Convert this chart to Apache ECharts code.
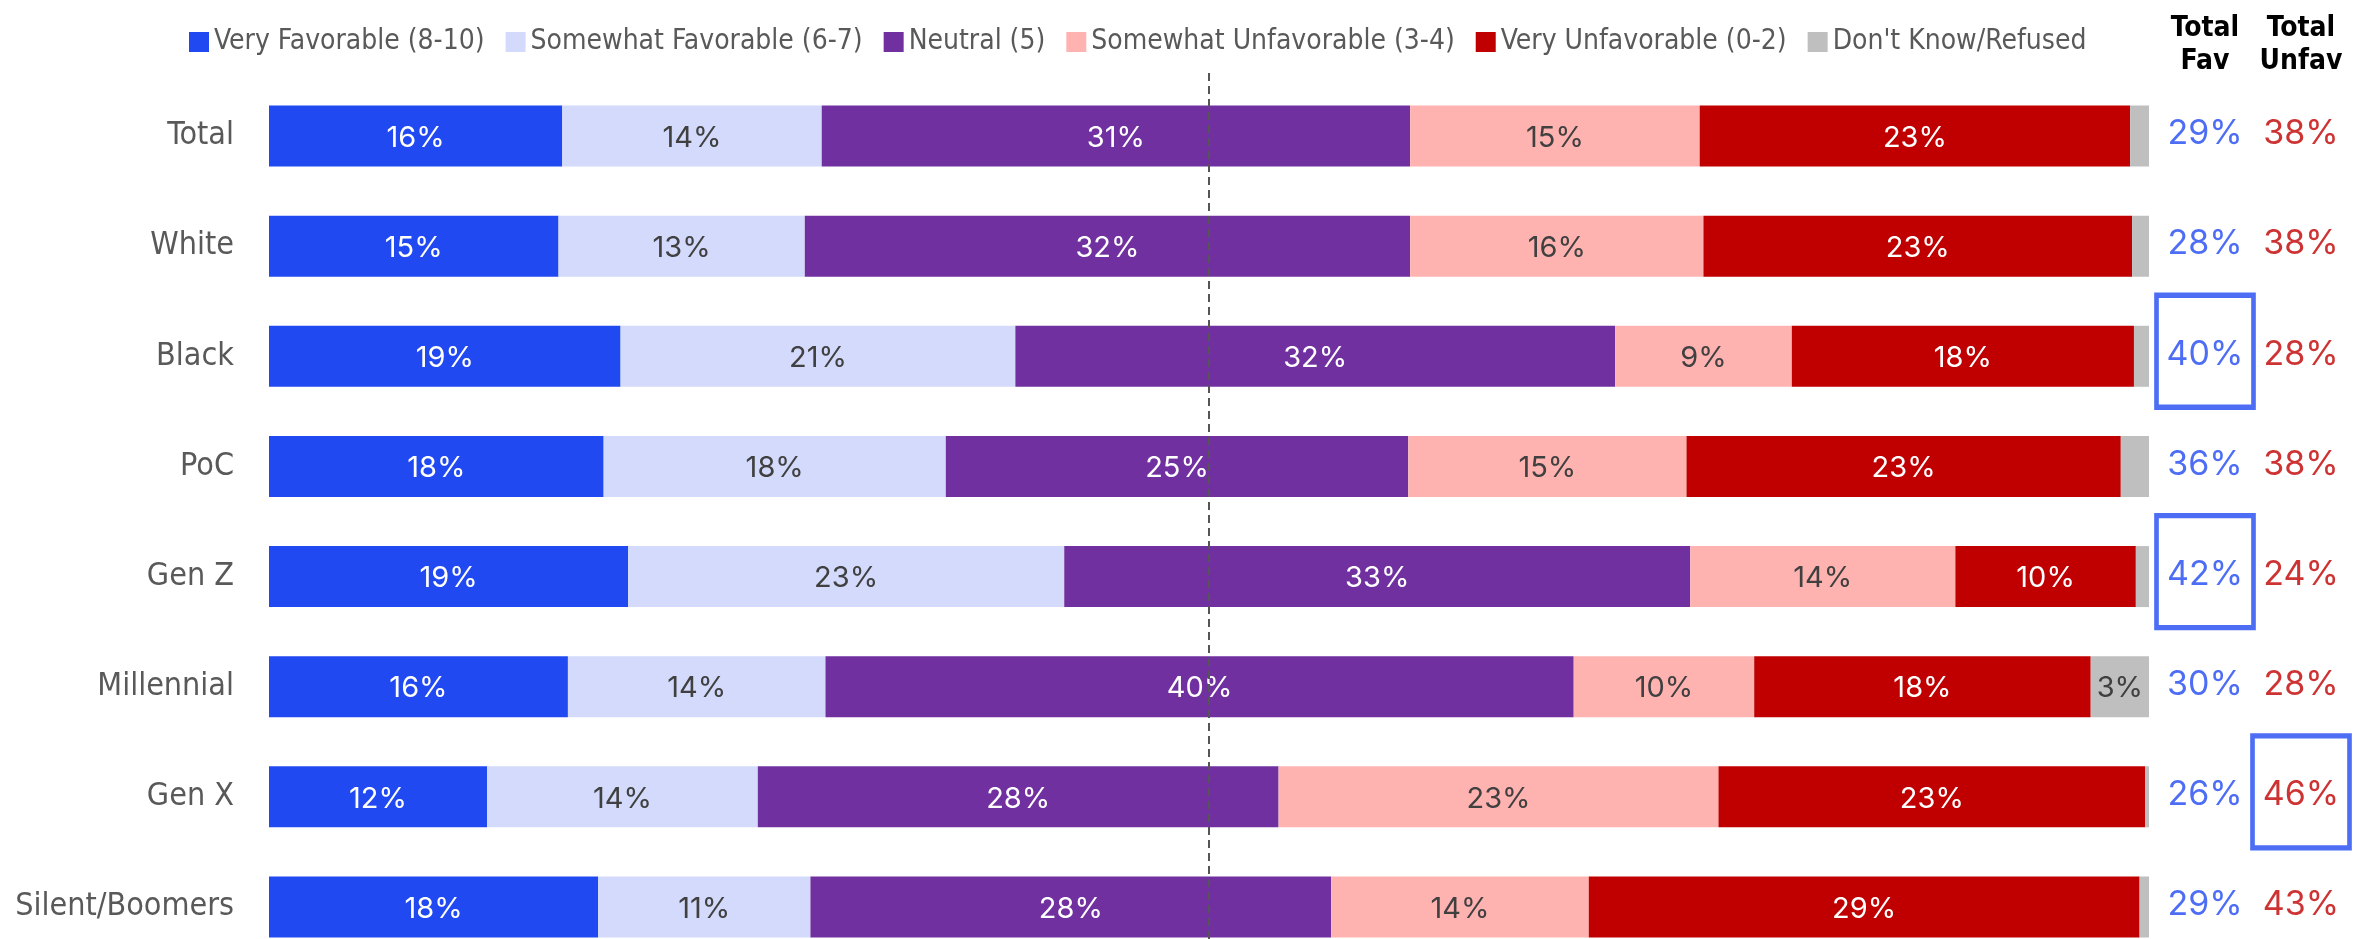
<!DOCTYPE html>
<html>
<head>
<meta charset="utf-8">
<script src="https://cdn.jsdelivr.net/npm/echarts@6/dist/echarts.min.js"></script>
<style>
  html, body { margin: 0; padding: 0; background: #fff; }
  #chart-container { width: 2368px; height: 939px; }
</style>
</head>
<body>
<div id="chart-container"></div>
<script>
// groups, top to bottom
const groups = ["Total", "White", "Black", "PoC", "Gen Z", "Millennial", "Gen X", "Silent/Boomers"];

// segment shares (%)
const veryFav = [15.6, 15.4, 18.7, 17.8, 19.1, 15.9, 11.6, 17.5];
const somewhatFav = [13.8, 13.1, 21.0, 18.2, 23.2, 13.7, 14.4, 11.3];
const neutral = [31.3, 32.2, 31.9, 24.6, 33.3, 39.8, 27.7, 27.7];
const somewhatUnfav = [15.4, 15.6, 9.4, 14.8, 14.1, 9.6, 23.4, 13.7];
const veryUnfav = [22.9, 22.8, 18.2, 23.1, 9.6, 17.9, 22.7, 29.3];
const dontKnow = [1.0, 0.9, 0.8, 1.5, 0.7, 3.1, 0.2, 0.5];

// right-hand summary columns
const totalFav = [29, 28, 40, 36, 42, 30, 26, 29];
const totalUnfav = [38, 38, 28, 38, 24, 28, 46, 43];
const boxedFav = ["Black", "Gen Z"];
const boxedUnfav = ["Gen X"];

const columnHeaders = ["Total\nFav", "Total\nUnfav"];
const midLine = 50;

const LABEL_FONT = "Inter, 'Open Sans', sans-serif";
const NARROW_FONT = "'DejaVu Sans Condensed', 'Liberation Sans Narrow', sans-serif";
const BLUE = "#2049f2";
const RED = "#c00000";

const segments = [
  { name: "Very Favorable (8-10)", data: veryFav, color: BLUE, text: "#ffffff" },
  { name: "Somewhat Favorable (6-7)", data: somewhatFav, color: "#d3dafb", text: "#404040" },
  { name: "Neutral (5)", data: neutral, color: "#7030a0", text: "#ffffff" },
  { name: "Somewhat Unfavorable (3-4)", data: somewhatUnfav, color: "#ffb3b1", text: "#404040" },
  { name: "Very Unfavorable (0-2)", data: veryUnfav, color: RED, text: "#ffffff" },
  { name: "Don't Know/Refused", data: dontKnow, color: "#bfbfbf", text: "#404040" },
];

const dom = document.getElementById("chart-container");
const chart = echarts.init(dom, null, { renderer: "canvas" });

// stacked bars
const barSeries = segments.map((s) => ({
  name: s.name,
  type: "bar",
  stack: "all",
  xAxisIndex: 0,
  yAxisIndex: 0,
  barWidth: 61,
  clip: false,
  silent: true,
  itemStyle: { color: s.color },
  label: {
    show: true,
    position: "inside",
    offset: [0, 2],
    color: s.text,
    fontFamily: LABEL_FONT,
    fontSize: 29,
    formatter: (p) => (p.value >= 2 ? Math.round(p.value) + "%" : ""),
  },
  data: s.data,
}));

// summary cells, with a box round the highlighted ones
function cellSeries(values, col, color, boxed) {
  return {
    type: "scatter",
    xAxisIndex: 1,
    yAxisIndex: 1,
    silent: true,
    clip: false,
    symbol: "rect",
    symbolSize: [97, 112],
    symbolOffset: [0, -5],
    z: 5,
    label: {
      show: true,
      position: "inside",
      offset: [0, 3],
      color: color,
      fontFamily: LABEL_FONT,
      fontSize: 34,
      formatter: (p) => p.value[2] + "%",
    },
    data: values.map((v, i) => ({
      value: [col, i, v],
      itemStyle: boxed.includes(groups[i])
        ? { color: "rgba(0,0,0,0)", borderColor: BLUE, borderWidth: 5 }
        : { color: "rgba(0,0,0,0)", borderWidth: 0 },
    })),
  };
}

// rows sit on the ticks (boundaryGap false), so the grid runs from first to last row centre
const option = {
  animation: false,
  legend: {
    left: 184,
    top: 23,
    itemWidth: 20,
    itemHeight: 20,
    itemGap: 21,
    icon: "rect",
    selectedMode: false,
    textStyle: { fontFamily: NARROW_FONT, fontSize: 28, color: "#595959" },
    data: segments.map((s) => s.name),
  },
  grid: [
    { left: 269, right: 219, top: 136, bottom: 32, outerBoundsMode: "none" },
    { left: 2157, right: 19, top: 136, bottom: 32, outerBoundsMode: "none" },
    { left: 269, right: 219, top: 68, bottom: 0, outerBoundsMode: "none" },
  ],
  xAxis: [
    { type: "value", gridIndex: 0, min: 0, max: 100, show: false },
    {
      type: "category",
      gridIndex: 1,
      position: "top",
      data: columnHeaders,
      axisLine: { show: false },
      axisTick: { show: false },
      axisLabel: {
        interval: 0,
        margin: 58,
        fontFamily: NARROW_FONT,
        fontWeight: "bold",
        fontSize: 28,
        lineHeight: 33,
        color: "#000000",
      },
    },
    { type: "value", gridIndex: 2, min: 0, max: 100, show: false },
  ],
  yAxis: [
    {
      type: "category",
      gridIndex: 0,
      inverse: true,
      boundaryGap: false,
      data: groups,
      axisLine: { show: false },
      axisTick: { show: false },
      splitLine: { show: false },
      axisLabel: {
        interval: 0,
        margin: 35,
        fontFamily: NARROW_FONT,
        fontSize: 32,
        color: "#595959",
      },
    },
    { type: "category", gridIndex: 1, inverse: true, boundaryGap: false, data: groups, show: false },
    { type: "value", gridIndex: 2, min: 0, max: 1, show: false },
  ],
  series: [
    ...barSeries,
    cellSeries(totalFav, 0, BLUE, boxedFav),
    cellSeries(totalUnfav, 1, RED, boxedUnfav),
    {
      // dashed 50% reference line
      type: "line",
      xAxisIndex: 2,
      yAxisIndex: 2,
      data: [],
      z: 10,
      markLine: {
        silent: true,
        symbol: "none",
        label: { show: false },
        lineStyle: { color: "#555555", type: [8, 5], width: 2 },
        data: [{ xAxis: midLine }],
      },
    },
  ],
};

chart.setOption(option);
window.addEventListener("resize", chart.resize);
</script>
</body>
</html>
